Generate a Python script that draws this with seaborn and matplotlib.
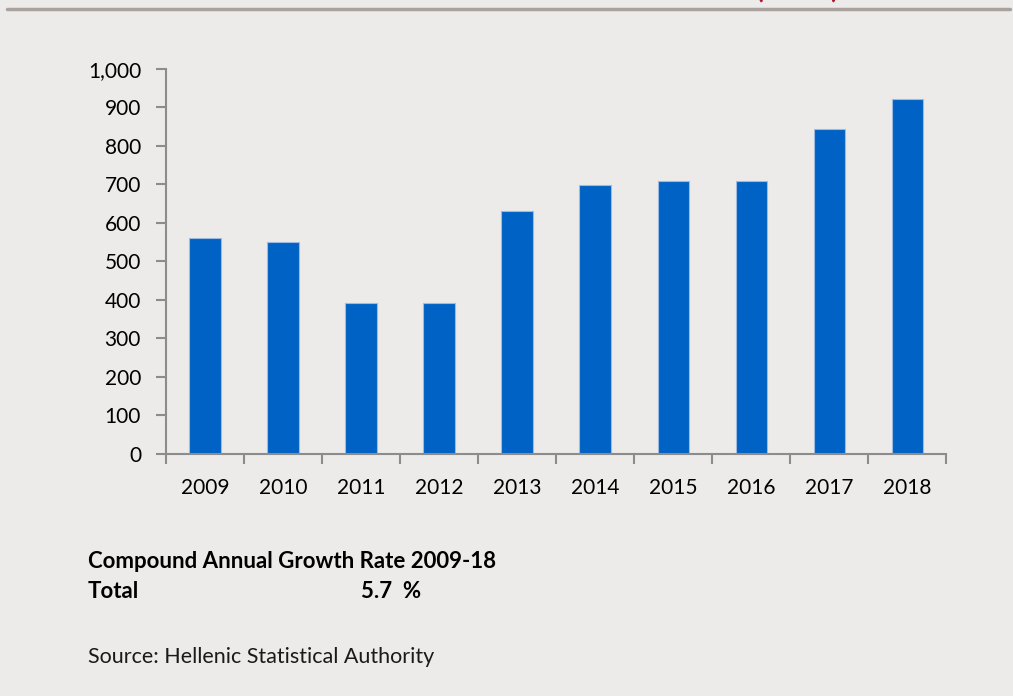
import matplotlib
matplotlib.use("Agg")
import matplotlib.pyplot as plt
import matplotlib.ticker as mticker
import seaborn as sns
import pandas as pd

years = ["2009", "2010", "2011", "2012", "2013", "2014", "2015", "2016", "2017", "2018"]
values = [561, 551, 391, 391, 631, 698, 708, 708, 843, 923]
y_ticks = [0, 100, 200, 300, 400, 500, 600, 700, 800, 900, 1000]

BG = "#EDEBE9"
BAR = "#0062C4"
AX = "#8C8C8C"

sns.set_theme(style="white")
plt.rcParams["font.family"] = ["Lato", "DejaVu Sans"]

fig = plt.figure(figsize=(10.13, 6.96), dpi=100, facecolor=BG)
ax = fig.add_axes([0.1639, 0.3477, 0.934 - 0.1639, 0.9009 - 0.3477])
ax.set_facecolor(BG)

df = pd.DataFrame({"year": years, "value": values})
sns.barplot(data=df, x="year", y="value", color=BAR, width=0.4, saturation=1,
            edgecolor="#9DBBE0", linewidth=0.8, ax=ax)

ax.set_xlim(-0.5, len(years) - 0.5)
ax.set_ylim(0, 1000)
ax.set_yticks(y_ticks)
ax.yaxis.set_major_formatter(mticker.FuncFormatter(lambda v, p: f"{int(v):,}"))
ax.set_xlabel("")
ax.set_ylabel("")

for s in ["top", "right"]:
    ax.spines[s].set_visible(False)
for s in ["left", "bottom"]:
    ax.spines[s].set_color(AX)
    ax.spines[s].set_linewidth(1.5)

ax.tick_params(axis="y", which="major", direction="out", length=7, width=1.5,
               color=AX, labelsize=15, labelcolor="black", pad=11, left=True)
ax.tick_params(axis="x", which="major", length=0, labelsize=15,
               labelcolor="black", pad=17)
ax.set_xticks([i - 0.5 for i in range(len(years) + 1)], minor=True)
ax.tick_params(axis="x", which="minor", direction="out", length=7, width=1.5,
               color=AX, bottom=True)

# top rule and cut-off title fragment
fig.add_artist(plt.Line2D([0.007, 0.997], [1 - 9 / 696, 1 - 9 / 696],
                          transform=fig.transFigure, color="#A9A19C", linewidth=2.5))
fig.text(797 / 1013, 1.014, "(          )", color="#A6192E", fontsize=20,
         fontweight="bold", ha="center", va="center")

fig.text(88 / 1013, 1 - 561 / 696, "Compound Annual Growth Rate 2009-18",
         fontsize=16, fontweight="bold", ha="left", va="center", color="black")
fig.text(88 / 1013, 1 - 591 / 696, "Total", fontsize=16, fontweight="bold",
         ha="left", va="center", color="black")
fig.text(361 / 1013, 1 - 591 / 696, "5.7  %", fontsize=16, fontweight="bold",
         ha="left", va="center", color="black")
fig.text(88 / 1013, 1 - 657 / 696, "Source: Hellenic Statistical Authority",
         fontsize=15.5, ha="left", va="center", color="#1A1A1A")

fig.savefig("out.png", dpi=100, facecolor=BG)
